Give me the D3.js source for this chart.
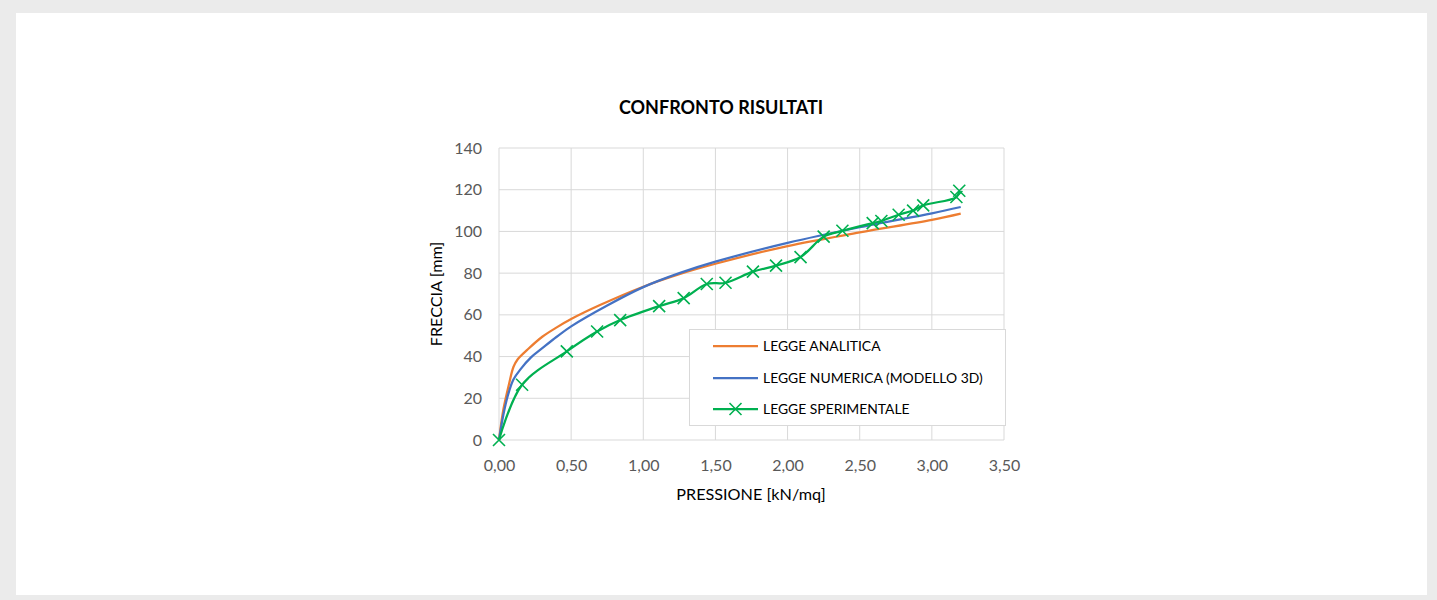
<!DOCTYPE html>
<html><head><meta charset="utf-8">
<script src="https://cdn.jsdelivr.net/npm/d3@7"></script>
<style>
html,body{margin:0;padding:0;background:#ebebeb;}
svg{display:block;}
text{font-family:Lato,"Open Sans",sans-serif;}
</style></head>
<body>
<svg id="c" width="1437" height="600"></svg>
<script>
// ---- data ----
const xTicks = [0,0.5,1,1.5,2,2.5,3,3.5];
const yTicks = [0,20,40,60,80,100,120,140];
const analiticaX = [0,0.03,0.07,0.1,0.13,0.2,0.3,0.4,0.5,0.7,1.0,1.25,1.5,2.0,2.5,3.0,3.2];
const analiticaY = [0,14.5,27,35,38.7,43.5,49.5,54,58,64.7,73.5,79.5,84.5,93,99.5,105.5,108.5];
const numericaX = [0,0.03,0.06,0.1,0.15,0.22,0.3,0.4,0.5,0.75,1.0,1.25,1.5,2.0,2.5,3.0,3.2];
const numericaY = [0,12,21,29,34,39.5,44,49.5,54.5,64.5,73.3,80,85.5,94.5,102,108.7,111.7];
const sperimX = [0,0.16,0.47,0.68,0.84,1.11,1.28,1.44,1.57,1.76,1.92,2.09,2.25,2.38,2.59,2.65,2.77,2.87,2.94,3.17,3.19];
const sperimY = [0,26.5,42.5,52,57.5,64.2,68,74.8,75.4,80.7,83.6,87.7,97.5,100.3,104,105,108,110,112.5,116.5,119.5];
const seriesNames = ["LEGGE ANALITICA","LEGGE NUMERICA (MODELLO 3D)","LEGGE SPERIMENTALE"];
const seriesColors = ["#ed7d31","#4472c4","#00b050"];

const svg = d3.select("#c");
svg.append("rect").attr("x",16).attr("y",13).attr("width",1411).attr("height",582).attr("fill","#fff");

const x = d3.scaleLinear().domain([0,3.5]).range([499,1004]);
const y = d3.scaleLinear().domain([0,140]).range([440,148]);
const fmt = d => d3.format(".2f")(d).replace(".",",");

// grid
svg.append("g").selectAll("line").data(yTicks).join("line")
  .attr("x1",x(0)).attr("x2",x(3.5)).attr("y1",d=>y(d)).attr("y2",d=>y(d))
  .attr("stroke","#d9d9d9").attr("stroke-width",1);
svg.append("g").selectAll("line").data(xTicks).join("line")
  .attr("y1",y(0)).attr("y2",y(140)).attr("x1",d=>x(d)).attr("x2",d=>x(d))
  .attr("stroke","#d9d9d9").attr("stroke-width",1);

// axes labels via d3 axes
const xAxis = svg.append("g").attr("transform",`translate(0,${y(0)})`)
  .call(d3.axisBottom(x).tickValues(xTicks).tickFormat(fmt).tickSize(0).tickPadding(20));
const yAxis = svg.append("g").attr("transform",`translate(${x(0)},0)`)
  .call(d3.axisLeft(y).tickValues(yTicks).tickSize(0).tickPadding(17));
[xAxis,yAxis].forEach(a=>{
  a.select(".domain").remove();
  a.selectAll("text").attr("fill","#595959").style("font-size","16px").style("font-family","Lato,'Open Sans',sans-serif");
});

// titles
svg.append("text").attr("x",721).attr("y",114).attr("text-anchor","middle")
  .style("font-size","18px").style("font-weight","bold").attr("fill","#000").text("CONFRONTO RISULTATI");
svg.append("text").attr("x",751).attr("y",500).attr("text-anchor","middle")
  .style("font-size","16.2px").attr("fill","#000").text("PRESSIONE [kN/mq]");
svg.append("text").attr("transform","translate(442,294) rotate(-90)").attr("text-anchor","middle")
  .style("font-size","16.2px").attr("fill","#000").text("FRECCIA [mm]");

// lines
const mk = (xs,ys) => xs.map((v,i)=>[v,ys[i]]);
const dataA = mk(analiticaX,analiticaY), dataN = mk(numericaX,numericaY), dataS = mk(sperimX,sperimY);
const lineC = d3.line().x(d=>x(d[0])).y(d=>y(d[1])).curve(d3.curveCatmullRom.alpha(0.5));
svg.append("path").datum(dataA).attr("d",lineC).attr("fill","none").attr("stroke",seriesColors[0]).attr("stroke-width",2.25);
svg.append("path").datum(dataN).attr("d",lineC).attr("fill","none").attr("stroke",seriesColors[1]).attr("stroke-width",2.25);
svg.append("path").datum(dataS).attr("d",lineC).attr("fill","none").attr("stroke",seriesColors[2]).attr("stroke-width",2.25);

const cross = (g,cx,cy,s,col)=>{
  g.append("path").attr("d",`M${cx-s},${cy-s}L${cx+s},${cy+s}M${cx-s},${cy+s}L${cx+s},${cy-s}`)
   .attr("stroke",col).attr("stroke-width",1.6).attr("fill","none");
};
const mg = svg.append("g");
dataS.forEach(d=>cross(mg,x(d[0]),y(d[1]),6,seriesColors[2]));

// legend
const lg = svg.append("g");
lg.append("rect").attr("x",689.5).attr("y",329.5).attr("width",316).attr("height",96)
  .attr("fill","#fff").attr("stroke","#d9d9d9").attr("stroke-width",1);
const rowY = [346,378,409];
seriesNames.forEach((n,i)=>{
  lg.append("line").attr("x1",713).attr("x2",758).attr("y1",rowY[i]).attr("y2",rowY[i])
    .attr("stroke",seriesColors[i]).attr("stroke-width",2.25);
  if(i===2) cross(lg,735.5,rowY[i],6,seriesColors[i]);
  lg.append("text").attr("x",763).attr("y",rowY[i]+5).style("font-size","13.9px").attr("fill","#000").text(n);
});
</script>
</body></html>
